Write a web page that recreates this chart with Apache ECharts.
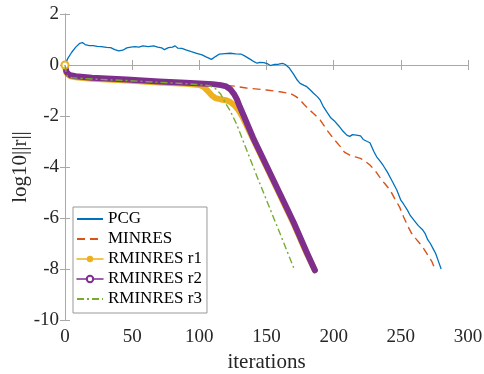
<!DOCTYPE html>
<html><head><meta charset="utf-8">
<script src="https://cdn.jsdelivr.net/npm/echarts@6/dist/echarts.min.js"></script>
<style>html,body{margin:0;padding:0;background:#fff}#c{width:484px;height:374px}</style>
</head><body><div id="c"></div>
<script>
// ---- data (iteration, log10||r||) ----
const pcgX = [0,2,5,8,11,13,15,18,21,24,27,31,34,37,40,43,46,49,52,55,58,62,66,69,72,74,77,80,82,84,87,90,94,98,102,105,109,112,115,119,123,127,131,134,138,141,143,145,148,151,153,156,159,162,164,167,170,173,175,178,180,183,185,188,190,192,195,198,201,204,207,210,212,214,217,220,222,225,227,230,232,235,237,240,242,244,247,250,252,255,257,260,263,266,268,270,272,274,276,278,280];
const pcgY = [0,0.25,0.5,0.7,0.85,0.88,0.8,0.76,0.76,0.73,0.72,0.69,0.68,0.6,0.55,0.58,0.67,0.7,0.72,0.7,0.75,0.72,0.75,0.7,0.67,0.6,0.68,0.7,0.75,0.66,0.65,0.59,0.52,0.46,0.4,0.32,0.22,0.33,0.43,0.45,0.46,0.44,0.43,0.35,0.22,0.12,0.07,0.1,0.09,0.04,-0.02,0.02,0.03,0.06,0.02,-0.12,-0.35,-0.6,-0.72,-0.8,-0.85,-1.0,-1.11,-1.25,-1.38,-1.6,-1.85,-2.08,-2.22,-2.4,-2.6,-2.76,-2.8,-2.73,-2.75,-2.78,-2.92,-3.0,-3.05,-3.4,-3.6,-3.8,-3.95,-4.2,-4.4,-4.6,-4.9,-5.3,-5.45,-5.7,-5.9,-6.1,-6.3,-6.45,-6.6,-6.85,-7.0,-7.2,-7.4,-7.7,-8.0];

const minresX = [0,1,2,4,8,20,46,70,90,110,116,120,126,135,150,160,168,172,175,178,182,185,190,195,200,205,208,212,216,220,224,227,231,234,238,242,246,249,252,255,258,261,264,267,270,273,275.5];
const minresY = [0,-0.25,-0.33,-0.4,-0.44,-0.5,-0.57,-0.65,-0.7,-0.75,-0.78,-0.8,-0.83,-0.9,-0.98,-1.05,-1.12,-1.24,-1.37,-1.55,-1.76,-1.9,-2.16,-2.55,-2.9,-3.2,-3.42,-3.53,-3.6,-3.66,-3.8,-3.92,-4.15,-4.38,-4.65,-4.9,-5.3,-5.56,-5.95,-6.3,-6.6,-6.8,-6.99,-7.2,-7.45,-7.7,-8.02];

const r1X = [0,1,2,4,8,20,46,70,90,100,103,106,109,112,116,120,123,126,129,132,140,150,160,170,180,186];
const r1Y = [0,-0.3,-0.37,-0.44,-0.48,-0.54,-0.61,-0.69,-0.74,-0.78,-0.85,-1.0,-1.18,-1.3,-1.35,-1.38,-1.45,-1.58,-1.75,-2.02,-2.9,-4.0,-5.1,-6.2,-7.4,-8.05];

const r2X = [0,1,2,4,8,20,46,70,90,110,116,120,123,126,128,130,133,140,150,160,170,180,186];
const r2Y = [0,-0.25,-0.33,-0.4,-0.44,-0.5,-0.57,-0.65,-0.7,-0.75,-0.79,-0.84,-0.95,-1.15,-1.35,-1.62,-1.98,-2.85,-3.95,-5.05,-6.15,-7.35,-8.05];

const r3X = [0,1,2,5,20,46,70,90,106,110,113,116,119,123,128,135,143,150,160,171];
const r3Y = [0,-0.35,-0.45,-0.5,-0.55,-0.61,-0.68,-0.73,-0.8,-0.86,-0.97,-1.15,-1.45,-1.8,-2.35,-3.3,-4.38,-5.3,-6.6,-8.05];

const xTicks = [0,50,100,150,200,250,300];
const yTicks = [-10,-8,-6,-4,-2,0,2];
const names = ['PCG','MINRES','RMINRES r1','RMINRES r2','RMINRES r3'];

const pairs = (xs, ys) => xs.map((x, i) => [x, ys[i]]);
const firstMarked = (xs, ys) => xs.map((x, i) => i === 0 ? {value:[x, ys[i]]} : {value:[x, ys[i]], symbol:'none'});

const FONT = '"Liberation Serif","Times New Roman",serif';
const AX = '#a8a8a8';
const TXT = '#262626';

const chart = echarts.init(document.getElementById('c'), null, {renderer:'canvas'});
const baseAxis = {
  axisLine:{show:true, lineStyle:{color:AX, width:1}},
  axisTick:{show:true, inside:true, length:5, lineStyle:{color:AX}},
  splitLine:{show:false},
};
chart.setOption({
  animation:false,
  backgroundColor:'#fff',
  grid:{left:65, right:16, top:14, bottom:54, containLabel:false, outerBoundsMode:'none'},
  xAxis:[
    Object.assign({type:'value', min:0, max:300, interval:50, position:'bottom',
      name:'iterations', nameLocation:'middle', nameGap:32, nameMoveOverlap:false,
      nameTextStyle:{fontFamily:FONT, fontSize:21, color:TXT},
      axisLabel:{show:true, margin:8, fontFamily:FONT, fontSize:19, color:TXT,
        formatter:v => xTicks.includes(v) ? String(v) : ''}}, baseAxis),
    Object.assign({type:'value', min:0, max:300, interval:50, position:'top',
      axisLabel:{show:false}}, baseAxis)
  ],
  yAxis:[
    Object.assign({type:'value', min:-10, max:2, interval:2, position:'left',
      name:'log10||r||', nameLocation:'middle', nameGap:34, nameMoveOverlap:false,
      nameTextStyle:{fontFamily:FONT, fontSize:21, color:TXT},
      axisLabel:{show:true, margin:6, fontFamily:FONT, fontSize:19, color:TXT,
        formatter:v => yTicks.includes(v) ? String(v) : ''}}, baseAxis),
    Object.assign({type:'value', min:-10, max:2, interval:2, position:'right',
      axisLabel:{show:false}}, baseAxis)
  ],
  legend:{
    orient:'vertical', left:73, top:207,
    padding:[2,5,4,3], itemGap:0, itemWidth:26, itemHeight:8,
    backgroundColor:'#fff', borderColor:'#999', borderWidth:1, borderRadius:0,
    textStyle:{fontFamily:FONT, fontSize:17, color:'#000', lineHeight:20},
    data:[
      {name:'PCG', itemStyle:{opacity:0}},
      {name:'MINRES', itemStyle:{opacity:0}},
      {name:'RMINRES r1', lineStyle:{width:1.5}, itemStyle:{color:'#EDB120'}},
      {name:'RMINRES r2', lineStyle:{width:1.5}, itemStyle:{color:'#7E2F8E'}},
      {name:'RMINRES r3', itemStyle:{opacity:0}}
    ]
  },
  series:[
    {name:'PCG', type:'line', data:pairs(pcgX, pcgY), showSymbol:false, symbol:'none',
      color:'#0072BD', lineStyle:{color:'#0072BD', width:1.3}, z:2},
    {name:'MINRES', type:'line', data:pairs(minresX, minresY), showSymbol:false, symbol:'none',
      color:'#D95319', lineStyle:{color:'#D95319', width:1.4, type:[8,5]}, z:2},
    {name:'RMINRES r1', type:'line', data:firstMarked(r1X, r1Y), symbol:'circle', symbolSize:6, showSymbol:true,
      color:'#EDB120', itemStyle:{color:'#EDB120'}, lineStyle:{color:'#EDB120', width:6, cap:'round', join:'round'}, z:3},
    {name:'RMINRES r2', type:'line', data:firstMarked(r2X, r2Y), symbol:'emptyCircle', symbolSize:7, showSymbol:true,
      color:'#7E2F8E', itemStyle:{color:'#EDB120', borderColor:'#7E2F8E', borderWidth:1.2},
      lineStyle:{color:'#7E2F8E', width:6, cap:'round', join:'round'}, z:4},
    {name:'RMINRES r3', type:'line', data:pairs(r3X, r3Y), showSymbol:false, symbol:'none',
      color:'#77AC30', lineStyle:{color:'#77AC30', width:1.4, type:[7,3,2,3]}, z:5}
  ]
});
</script></body></html>
